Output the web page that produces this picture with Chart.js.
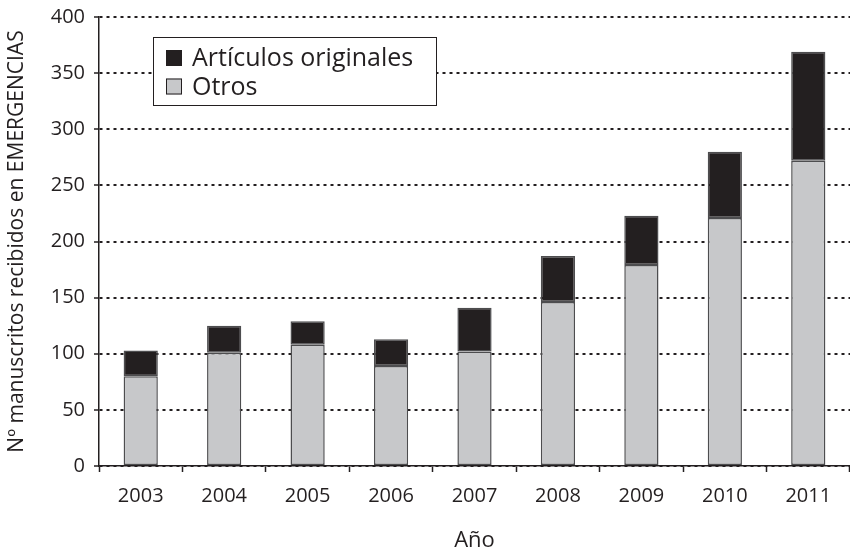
<!DOCTYPE html>
<html>
<head>
<meta charset="utf-8">
<script src="https://cdn.jsdelivr.net/npm/chart.js@4/dist/chart.umd.min.js"></script>
<style>
  html, body { margin: 0; padding: 0; background: #fff; }
  #wrap { width: 850px; height: 554px; }
</style>
</head>
<body>
<div id="wrap"><canvas id="chart" width="850" height="554"></canvas></div>
<script>
// Data
const years = ['2003', '2004', '2005', '2006', '2007', '2008', '2009', '2010', '2011'];
const otros = [80, 101, 108, 89, 102, 146, 179, 221, 272];
const originales = [23, 24, 21, 24, 39, 41, 44, 59, 97];
const yTicks = [0, 50, 100, 150, 200, 250, 300, 350, 400];

// Colours
const INK = '#231f20';
const GREY = '#c7c8ca';
const EDGE = '#4d4d4f';
const FONT = "'Open Sans', sans-serif";

Chart.defaults.font.family = FONT;
Chart.defaults.color = INK;

// Legend box drawn inside the plot, top-left
const boxLegend = {
  id: 'boxLegend',
  afterDraw(chart) {
    const ctx = chart.ctx;
    const items = chart.data.datasets.slice().reverse();
    ctx.save();
    ctx.fillStyle = '#fff';
    ctx.fillRect(153.5, 37.5, 283, 68);
    ctx.strokeStyle = INK;
    ctx.lineWidth = 1;
    ctx.strokeRect(153.5, 37.5, 283, 68);
    ctx.font = '25px ' + FONT;
    ctx.textBaseline = 'middle';
    items.forEach((ds, i) => {
      const cy = 58 + i * 28.5;
      ctx.fillStyle = ds.backgroundColor;
      ctx.fillRect(166, cy - 8, 16, 16);
      ctx.strokeStyle = INK;
      ctx.strokeRect(166.5, cy - 7.5, 15, 15);
      ctx.fillStyle = INK;
      ctx.fillText(ds.label, 192, cy + 1);
    });
    ctx.restore();
  }
};

new Chart(document.getElementById('chart'), {
  type: 'bar',
  data: {
    labels: years,
    datasets: [
      {
        label: 'Otros',
        data: otros,
        backgroundColor: GREY,
        borderColor: EDGE,
        borderWidth: 1.5,
        borderSkipped: false
      },
      {
        label: 'Artículos originales',
        data: originales,
        backgroundColor: INK,
        borderColor: EDGE,
        borderWidth: 1.5,
        borderSkipped: false
      }
    ]
  },
  options: {
    responsive: false,
    animation: false,
    layout: { padding: { top: 17, right: 0, left: 0, bottom: 0 } },
    datasets: { bar: { barPercentage: 0.41, categoryPercentage: 1 } },
    plugins: {
      legend: { display: false },
      tooltip: { enabled: false }
    },
    scales: {
      x: {
        stacked: true,
        offset: true,
        afterFit(scale) { scale.height = 88; },
        grid: {
          offset: true,
          drawOnChartArea: false,
          drawTicks: true,
          tickLength: 6,
          tickColor: INK,
          tickWidth: 1.5
        },
        border: { display: true, color: INK, width: 1.5 },
        ticks: { font: { size: 20 }, color: INK, padding: 12, maxRotation: 0 },
        title: {
          display: true,
          text: 'Año',
          font: { size: 22 },
          color: INK,
          padding: { top: 0, bottom: 0 }
        }
      },
      y: {
        stacked: true,
        min: 0,
        max: 400,
        afterFit(scale) {
          scale.width = 99;
          scale.paddingTop = 0;
          scale.paddingBottom = 0;
        },
        afterBuildTicks(scale) { scale.ticks = yTicks.map(v => ({ value: v })); },
        grid: {
          color: INK,
          lineWidth: 2,
          drawTicks: true,
          tickLength: 5,
          tickColor: INK,
          tickWidth: 1.5,
          tickBorderDash: []
        },
        border: { display: true, color: INK, width: 1.5, dash: [3, 4] },
        ticks: { font: { size: 20 }, color: INK, padding: 9 },
        title: {
          display: true,
          text: 'Nº manuscritos recibidos en EMERGENCIAS',
          font: { size: 21 },
          color: INK,
          padding: { top: 4, bottom: 0 }
        }
      }
    }
  },
  plugins: [boxLegend]
});
</script>
</body>
</html>
